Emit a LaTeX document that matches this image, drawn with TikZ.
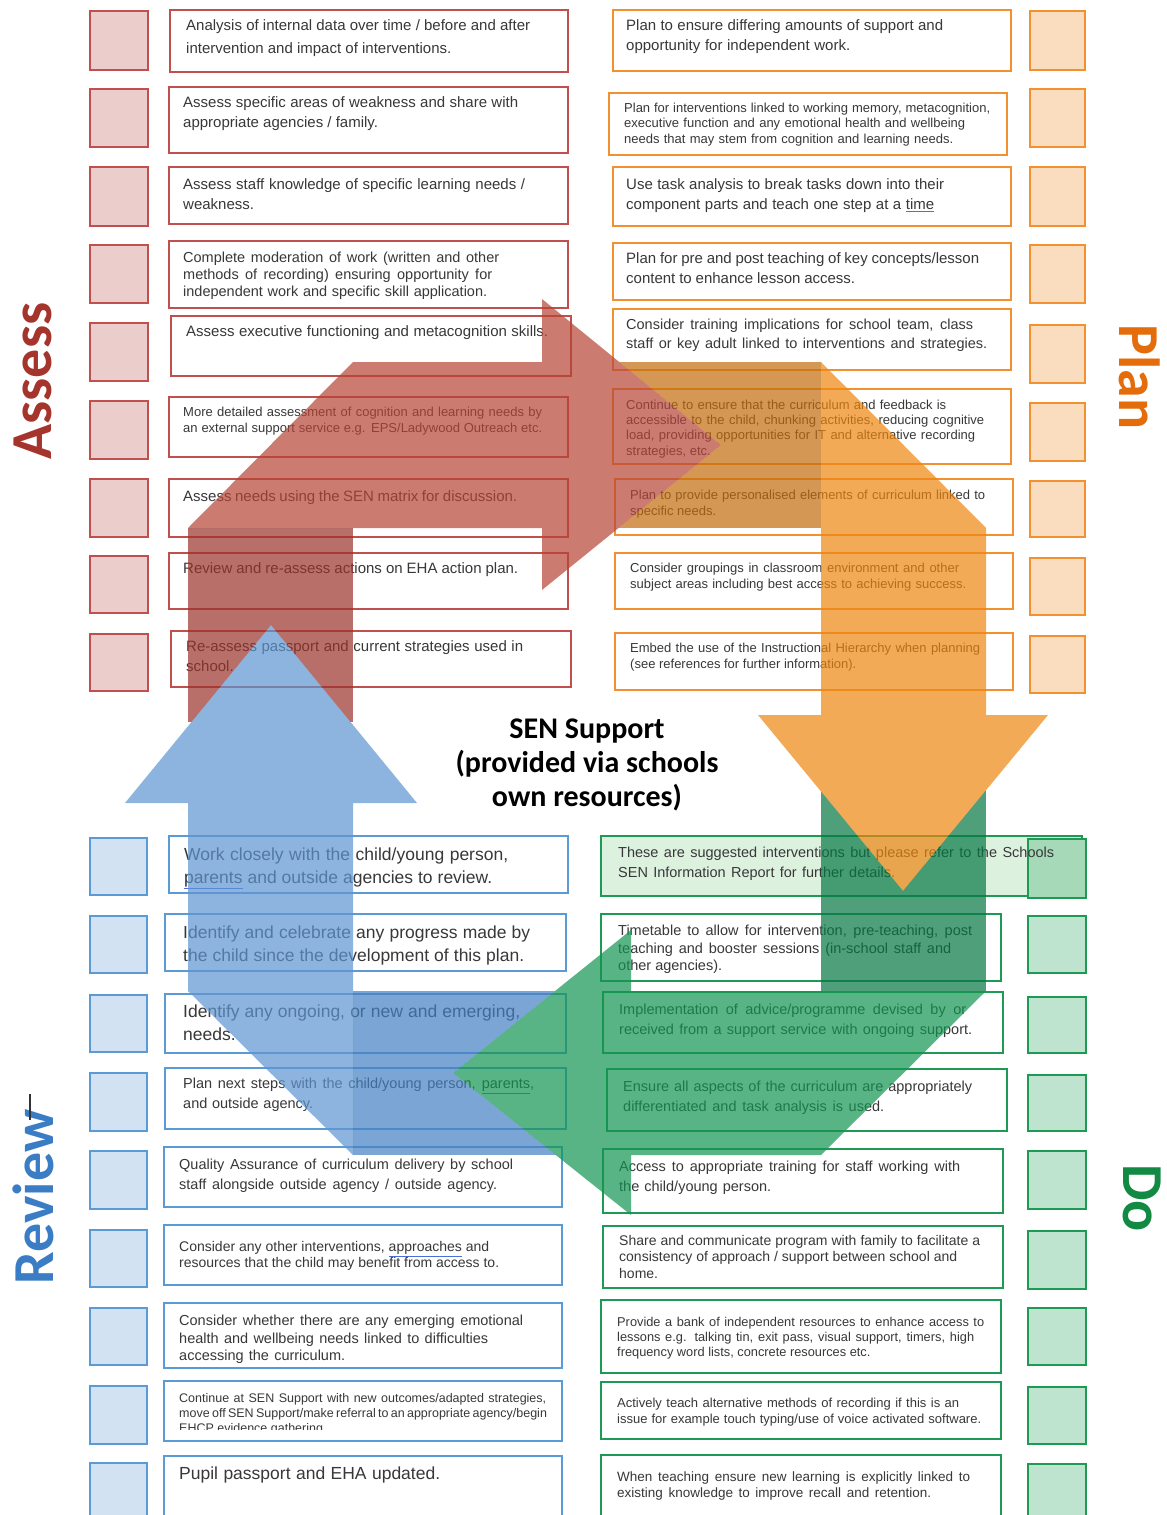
\documentclass[tikz,border=0pt]{standalone}
\usepackage{fontspec}
\setmainfont{Liberation Sans}
\newfontfamily\labfont{Carlito}

% palette
\definecolor{txt}{HTML}{383838}
\definecolor{sqc}{HTML}{4A6FD8}
\definecolor{redB}{HTML}{C0504D}
\definecolor{redF}{HTML}{EBCDCC}
\definecolor{oraB}{HTML}{F39130}
\definecolor{oraF}{HTML}{FADDBE}
\definecolor{bluB}{HTML}{5B9BD5}
\definecolor{bluF}{HTML}{D3E2F2}
\definecolor{grnB}{HTML}{1E9A55}
\definecolor{grnF}{HTML}{BEE3CF}
\definecolor{grnBox}{HTML}{DDF1DF}
\definecolor{grnSq}{HTML}{A5D9B8}
% arrow colours (used with fill opacity)
\definecolor{redL}{HTML}{B74436}
\definecolor{redD}{HTML}{9A332A}
\definecolor{bluL}{HTML}{5E95D0}
\definecolor{bluD}{HTML}{4480C2}
\definecolor{grnL}{HTML}{139552}
\definecolor{grnD}{HTML}{057744}
\definecolor{oraL}{HTML}{EE8610}
\definecolor{oraD}{HTML}{C36C0C}
% stage titles
\definecolor{cAssess}{HTML}{A5352C}
\definecolor{cPlan}{HTML}{E46C0A}
\definecolor{cReview}{HTML}{3B7DC4}
\definecolor{cDo}{HTML}{138A43}

% one justified line of a card
\newcommand\jline[2]{\hbox to #1pt{#2}}
% spell-check underline
\newcommand\squig[1]{{\color{sqc}\underline{\color{txt}#1}}}
% card text: name, left x, centre of first line, size, line skip, lines
\newcommand\boxtext[6]{\node[tx,font=\fontsize{#4}{#5}\selectfont] (#1) at (#2,{#3-0.42*#4}) {#6};}
% card frame
\newcommand\frm[5]{\draw[#1] (#2,#3) rectangle (#4,#5);}

% bend and head of each arrow
\def\lRed{(188,528) -- (353,362) -- (542,362) -- (542,299) -- (721,445) -- (542,590) -- (542,528) -- cycle}
\def\lBlue{(353,1155) -- (188,991) -- (188,803) -- (125,803) -- (271,625) -- (417,803) -- (353,803) -- cycle}
\def\lGreen{(986,991) -- (821,1155) -- (631,1155) -- (631,1215) -- (453,1073) -- (631,930) -- (631,991) -- cycle}
\def\lOrange{(821,362) -- (986,528) -- (986,715) -- (1048,715) -- (903,891) -- (758,715) -- (821,715) -- cycle}
% frame used to punch a head out of a shaft
\def\pageframe{(-20,-20) rectangle (1190,1540)}

\begin{document}
\begin{tikzpicture}[x=1pt,y=-1pt,
  tx/.style={anchor=north west,inner sep=0pt,align=left,text=txt},
  rbox/.style={draw=redB,line width=1.6pt},
  rsq/.style={draw=redB,fill=redF,line width=1.6pt},
  obox/.style={draw=oraB,line width=1.6pt},
  osq/.style={draw=oraB,fill=oraF,line width=1.6pt},
  bbox/.style={draw=bluB,line width=1.6pt},
  bsq/.style={draw=bluB,fill=bluF,line width=1.6pt},
  gbox/.style={draw=grnB,line width=1.6pt},
  gsq/.style={draw=grnB,fill=grnF,line width=1.6pt},
  arr/.style={fill opacity=0.7},
  title/.style={font=\labfont\bfseries\fontsize{58}{58}\selectfont,inner sep=0pt}]
\useasboundingbox[fill=white] (0,0) rectangle (1167,1515);

% ---------- Assess column ----------
\frm{rsq}{90}{11}{148}{70}
\frm{rsq}{90}{89}{148}{147}
\frm{rsq}{90}{167}{148}{226}
\frm{rsq}{90}{245}{148}{303}
\frm{rsq}{90}{323}{148}{381}
\frm{rsq}{90}{401}{148}{459}
\frm{rsq}{90}{479}{148}{537}
\frm{rsq}{90}{556}{148}{613}
\frm{rsq}{90}{634}{148}{691}
\frm{rbox}{170}{10}{568}{72}
\frm{rbox}{169}{87}{568}{153}
\frm{rbox}{169}{167}{568}{224}
\frm{rbox}{169}{241}{568}{308}
\frm{rbox}{171}{316}{571}{376}
\frm{rbox}{169}{397}{568}{457}
\frm{rbox}{169}{479}{568}{537}
\frm{rbox}{169}{553}{568}{609}
\frm{rbox}{171}{631}{571}{687}
\boxtext{a1}{186}{26}{15}{23}{\jline{344}{Analysis of internal data over time / before and after}\\intervention and impact of interventions.}
\boxtext{a2}{183}{103}{15}{20}{\jline{335}{Assess specific areas of weakness and share with}\\appropriate agencies / family.}
\boxtext{a3}{183}{185}{15}{20}{\jline{342}{Assess staff knowledge of specific learning needs /}\\weakness.}
\boxtext{a4}{183}{258}{14.5}{17}{\jline{316}{Complete moderation of work (written and other}\\\jline{309}{methods of recording) ensuring opportunity for}\\\jline{304}{independent work and specific skill application.}}
\boxtext{a5}{186}{332}{15}{20}{\jline{362}{Assess executive functioning and metacognition skills.}}
\boxtext{a6}{183}{412}{13}{16}{\jline{359}{More detailed assessment of cognition and learning needs by}\\\jline{359}{an external support service e.g. EPS/Ladywood Outreach etc.}}
\boxtext{a7}{183}{497}{15}{20}{\jline{334}{Assess needs using the SEN matrix for discussion.}}
\boxtext{a8}{183}{569}{15}{20}{\jline{335}{Review and re-assess actions on EHA action plan.}}
\boxtext{a9}{186}{647}{15}{20}{\jline{337}{Re-assess passport and current strategies used in}\\school.}

% ---------- Plan column ----------
\frm{osq}{1030}{11}{1085}{70}
\frm{osq}{1030}{89}{1085}{147}
\frm{osq}{1030}{167}{1085}{226}
\frm{osq}{1030}{245}{1085}{303}
\frm{osq}{1030}{325}{1085}{383}
\frm{osq}{1030}{403}{1085}{461}
\frm{osq}{1030}{481}{1085}{537}
\frm{osq}{1030}{558}{1085}{615}
\frm{osq}{1030}{636}{1085}{693}
\frm{obox}{613}{10}{1011}{71}
\frm{obox}{609}{93}{1007}{155}
\frm{obox}{613}{167}{1011}{226}
\frm{obox}{613}{243}{1011}{300}
\frm{obox}{613}{309}{1011}{370}
\frm{obox}{613}{389}{1011}{464}
\frm{obox}{615}{479}{1013}{535}
\frm{obox}{615}{553}{1013}{609}
\frm{obox}{615}{633}{1013}{690}
\boxtext{p1}{626}{26}{15}{20}{\jline{317}{Plan to ensure differing amounts of support and}\\\jline{224}{opportunity for independent work.}}
\boxtext{p2}{624}{108}{13}{15.5}{\jline{366}{Plan for interventions linked to working memory, metacognition,}\\\jline{341}{executive function and any emotional health and wellbeing}\\\jline{329}{needs that may stem from cognition and learning needs.}}
\boxtext{p3}{626}{185}{15}{20}{\jline{318}{Use task analysis to break tasks down into their}\\\jline{308}{component parts and teach one step at a \squig{time}}}
\boxtext{p4}{626}{259}{15}{20}{\jline{353}{Plan for pre and post teaching of key concepts/lesson}\\\jline{229}{content to enhance lesson access.}}
\boxtext{p5}{626}{325}{14.5}{19}{\jline{347}{Consider training implications for school team, class}\\\jline{361}{staff or key adult linked to interventions and strategies.}}
\boxtext{p6}{626}{405}{13}{15.3}{\jline{320}{Continue to ensure that the curriculum and feedback is}\\\jline{358}{accessible to the child, chunking activities, reducing cognitive}\\\jline{349}{load, providing opportunities for IT and alternative recording}\\strategies, etc.}
\boxtext{p7}{630}{495}{13}{16}{\jline{355}{Plan to provide personalised elements of curriculum linked to}\\specific needs.}
\boxtext{p8}{630}{568}{13}{16}{\jline{329}{Consider groupings in classroom environment and other}\\\jline{336}{subject areas including best access to achieving success.}}
\boxtext{p9}{630}{648}{13}{16}{\jline{350}{Embed the use of the Instructional Hierarchy when planning}\\(see references for further information).}

% ---------- Review column ----------
\frm{bsq}{90}{838}{147}{895}
\frm{bsq}{90}{916}{147}{973}
\frm{bsq}{90}{995}{147}{1052}
\frm{bsq}{90}{1073}{147}{1131}
\frm{bsq}{90}{1151}{147}{1209}
\frm{bsq}{90}{1230}{147}{1287}
\frm{bsq}{90}{1308}{147}{1365}
\frm{bsq}{90}{1386}{147}{1444}
\frm{bsq}{90}{1463}{147}{1530}
\frm{bbox}{169}{836}{568}{893}
\frm{bbox}{165}{914}{566}{971}
\frm{bbox}{165}{994}{566}{1053}
\frm{bbox}{165}{1068}{566}{1129}
\frm{bbox}{164}{1147}{562}{1207}
\frm{bbox}{164}{1225}{562}{1285}
\frm{bbox}{164}{1303}{562}{1368}
\frm{bbox}{164}{1381}{562}{1441}
\frm{bbox}{164}{1456}{562}{1530}
\boxtext{l1}{184}{855}{17.5}{23}{\jline{324}{Work closely with the child/young person,}\\\jline{308}{\squig{parents} and outside agencies to review.}}
\boxtext{l2}{183}{933}{17.5}{23}{\jline{347}{Identify and celebrate any progress made by}\\\jline{341}{the child since the development of this plan.}}
\boxtext{l3}{183}{1012}{17.5}{23}{\jline{337}{Identify any ongoing, or new and emerging,}\\needs.}
\boxtext{l4}{183}{1084}{14.5}{20}{\jline{351}{Plan next steps with the child/young person, \squig{parents},}\\\jline{130}{and outside agency.}}
\boxtext{l5}{179}{1165}{14.5}{20}{\jline{334}{Quality Assurance of curriculum delivery by school}\\\jline{318}{staff alongside outside agency / outside agency.}}
\boxtext{l6}{179}{1247}{14}{16.5}{\jline{310}{Consider any other interventions, \squig{approaches} and}\\\jline{320}{resources that the child may benefit from access to.}}
\boxtext{l7}{179}{1321}{14.5}{17.5}{\jline{344}{Consider whether there are any emerging emotional}\\\jline{309}{health and wellbeing needs linked to difficulties}\\\jline{166}{accessing the curriculum.}}
\begin{scope}
  \clip (164,1381) rectangle (562,1429);
  \boxtext{l8}{179}{1398}{12.5}{15}{\jline{367}{Continue at SEN Support with new outcomes/adapted strategies,}\\\jline{367}{move off SEN Support/make referral to an appropriate agency/begin}\\EHCP evidence gathering.}
\end{scope}
\boxtext{l9}{179}{1474}{17.5}{20}{\jline{261}{Pupil passport and EHA updated.}}

% ---------- Do column ----------
\draw[gbox,fill=grnBox] (601,836) rectangle (1082,896);
\frm{gsq,fill=grnSq}{1028}{839}{1086}{898}
\frm{gsq}{1028}{916}{1086}{973}
\frm{gsq}{1028}{997}{1086}{1053}
\frm{gsq}{1028}{1075}{1086}{1131}
\frm{gsq}{1028}{1151}{1086}{1209}
\frm{gsq}{1028}{1231}{1086}{1289}
\frm{gsq}{1028}{1308}{1086}{1365}
\frm{gsq}{1028}{1387}{1086}{1444}
\frm{gsq}{1028}{1464}{1086}{1530}
\frm{gbox}{601}{914}{1001}{981}
\frm{gbox}{603}{992}{1003}{1053}
\frm{gbox}{607}{1069}{1007}{1131}
\frm{gbox}{603}{1149}{1003}{1213}
\frm{gbox}{603}{1226}{1003}{1288}
\frm{gbox}{601}{1300}{1001}{1373}
\frm{gbox}{601}{1382}{1001}{1439}
\frm{gbox}{601}{1455}{1001}{1530}
\boxtext{g1}{618}{853}{14.5}{20}{\jline{436}{These are suggested interventions but please refer to the Schools}\\\jline{277}{SEN Information Report for further details.}}
\boxtext{g2}{618}{931}{14.5}{17.5}{\jline{354}{Timetable to allow for intervention, pre-teaching, post}\\\jline{333}{teaching and booster sessions (in-school staff and}\\other agencies).}
\boxtext{g3}{619}{1010}{14.5}{20}{\jline{347}{Implementation of advice/programme devised by or}\\\jline{353}{received from a support service with ongoing support.}}
\boxtext{g4}{623}{1087}{14.5}{20}{\jline{349}{Ensure all aspects of the curriculum are appropriately}\\\jline{261}{differentiated and task analysis is used.}}
\boxtext{g5}{619}{1167}{14.5}{20}{\jline{341}{Access to appropriate training for staff working with}\\\jline{152}{the child/young person.}}
\boxtext{g6}{619}{1241}{14}{16.5}{\jline{361}{Share and communicate program with family to facilitate a}\\\jline{338}{consistency of approach / support between school and}\\home.}
\boxtext{g7}{617}{1322}{12.8}{15.3}{\jline{367}{Provide a bank of independent resources to enhance access to}\\\jline{357}{lessons e.g. talking tin, exit pass, visual support, timers, high}\\frequency word lists, concrete resources etc.}
\boxtext{g8}{617}{1403}{13}{16}{\jline{342}{Actively teach alternative methods of recording if this is an}\\\jline{364}{issue for example touch typing/use of voice activated software.}}
\boxtext{g9}{617}{1477}{13.5}{16}{\jline{353}{When teaching ensure new learning is explicitly linked to}\\\jline{314}{existing knowledge to improve recall and retention.}}

% ---------- cycle arrows ----------
% bends and heads
\fill[arr,redL] \lRed;
\fill[arr,bluL] \lBlue;
\fill[arr,grnL] \lGreen;
\fill[arr,oraL] \lOrange;
% straight shafts, each lying under the head that crosses it
\begin{scope}[even odd rule]
  \clip \pageframe \lBlue;
  \fill[arr,redD] (188,528) rectangle (353,722);
\end{scope}
\begin{scope}[even odd rule]
  \clip \pageframe \lRed;
  \fill[arr,oraD] (618,362) rectangle (821,528);
\end{scope}
\begin{scope}[even odd rule]
  \clip \pageframe \lOrange;
  \fill[arr,grnD] (821,790) rectangle (986,991);
\end{scope}
\begin{scope}[even odd rule]
  \clip \pageframe \lGreen;
  \fill[arr,bluD] (353,991) rectangle (556,1155);
\end{scope}

% ---------- centre caption ----------
\node[font=\labfont\bfseries\fontsize{30}{34}\selectfont,align=center,inner sep=0pt] (sen) at (587,765)
  {SEN Support\\(provided via schools\\own resources)};

% ---------- stage titles ----------
\node[title,rotate=90,text=cAssess] (tAssess) at (33,381) {Assess};
\node[title,rotate=-90,text=cPlan] (tPlan) at (1140,377) {Plan};
\node[title,rotate=-90,text=cDo] (tDo) at (1142,1198) {Do};
\node[title,rotate=90,text=cReview] (tReview) at (33,1197) {Review};
\draw[line width=1.3pt,black!80] (30,1094) -- (30,1120);
\end{tikzpicture}
\end{document}
